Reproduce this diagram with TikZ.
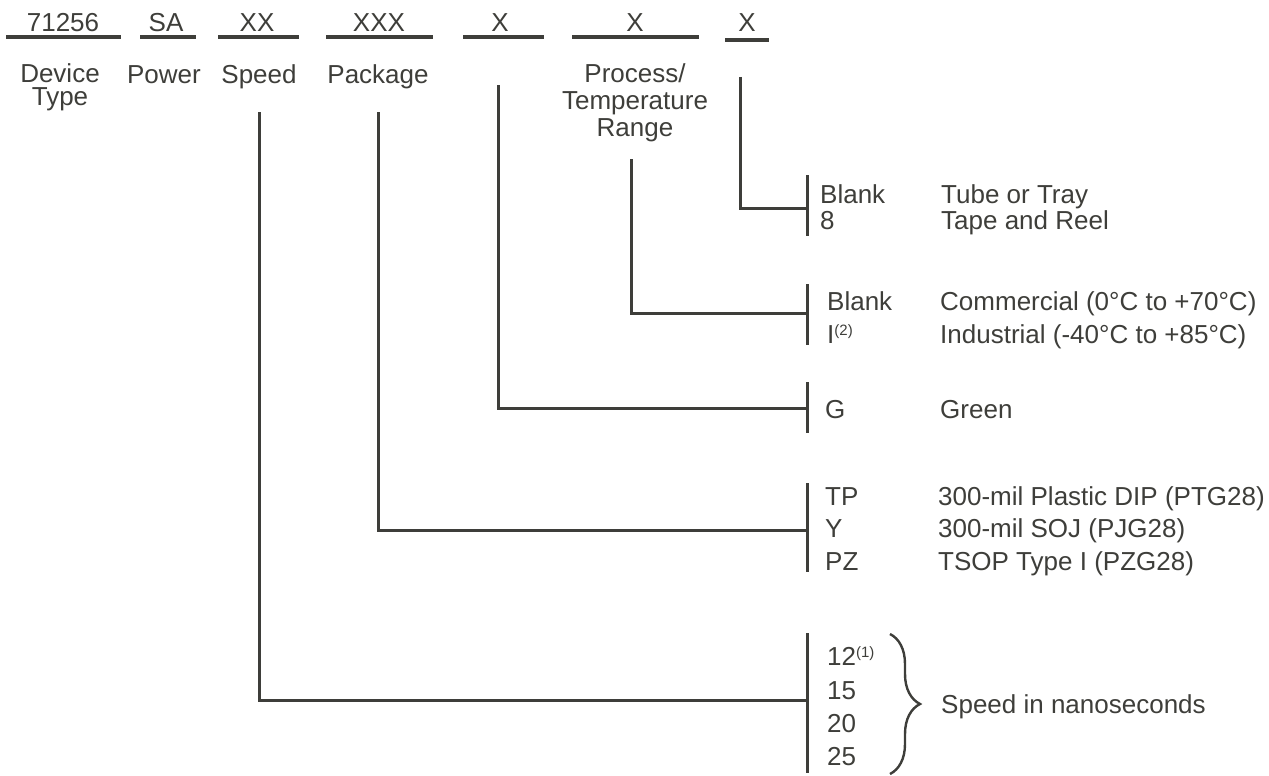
\documentclass[tikz,border=0pt]{standalone}
\usepackage{fontspec}
\setmainfont{Liberation Sans}
\usetikzlibrary{decorations.pathreplacing}
\definecolor{ink}{RGB}{62,62,58}
\newcommand{\noteref}[1]{\raisebox{8pt}{\fontsize{15}{15}\selectfont(#1)}}
\tikzset{
  code/.style={anchor=base,inner sep=0pt},
  field/.style={anchor=base,inner sep=0pt,align=center},
  opt/.style={anchor=base west,inner sep=0pt},
  wire/.style={line width=3pt},
  uline/.style={line width=3.4pt},
}

\begin{document}
\begin{tikzpicture}[x=1pt,y=-1pt,ink,text=ink,font=\fontsize{26}{26}\selectfont]
	\useasboundingbox (0,0) rectangle (1269,776);

	% part number fields
	\node[code] (devcode) at (63,32) {71256};
	\node[code] (pwrcode) at (166,32) {SA};
	\node[code] (spdcode) at (257,32) {XX};
	\node[code] (pkgcode) at (379,32) {XXX};
	\node[code] (grncode) at (500,32) {X};
	\node[code] (tmpcode) at (635,32) {X};
	\node[code] (pckcode) at (747,32) {X};
	\draw[uline] (6,37) -- (121,37);
	\draw[uline] (140,37) -- (196,37);
	\draw[uline] (218,37) -- (299,37);
	\draw[uline] (326,37) -- (433,37);
	\draw[uline] (463,37) -- (544,37);
	\draw[uline] (572,37) -- (699,37);
	\draw[uline] (725,40) -- (769,40);

	% base = last line
	\node[field,font=\fontsize{26}{24}\selectfont] (dev) at (60,106) {Device\\Type};
	\node[field] (pwr) at (164,83) {Power};
	\node[field] (spd) at (259,83) {Speed};
	\node[field] (pkg) at (378,83) {Package};
	\node[field,font=\fontsize{26}{27}\selectfont] (tmp) at (635,136) {Process/\\Temperature\\Range};

	% tops of the leads
	\coordinate (spdtop) at (259,112);
	\coordinate (pkgtop) at (378,112);
	\coordinate (grntop) at (498,85);
	\coordinate (tmptop) at (631,159);
	\coordinate (pcktop) at (740,77);

	% packing
	\coordinate (pckbar) at (807,208);
	\draw[wire] (807,175) -- (807,236);
	\draw[wire] (pcktop) |- (pckbar);
	\node[opt] (pck0) at (820,203) {Blank};
	\node[opt] (pck8) at (820,229) {8};
	\node[opt] (pck0t) at (941,203) {Tube or Tray};
	\node[opt] (pck8t) at (941,229) {Tape and Reel};

	% temperature
	\coordinate (tmpbar) at (807,313);
	\draw[wire] (807,284) -- (807,345);
	\draw[wire] (tmptop) |- (tmpbar);
	\node[opt] (tmp0) at (827,310) {Blank};
	\node[opt] (tmpi) at (827,343) {I\noteref{2}};
	\node[opt] (tmp0t) at (940,310) {Commercial (0°C to +70°C)};
	\node[opt] (tmpit) at (940,343) {Industrial (-40°C to +85°C)};

	% green
	\coordinate (grnbar) at (807,408);
	\draw[wire] (807,382) -- (807,433);
	\draw[wire] (grntop) |- (grnbar);
	\node[opt] (grng) at (825,418) {G};
	\node[opt] (grngt) at (940,418) {Green};

	% package
	\coordinate (pkgbar) at (807,530);
	\draw[wire] (807,483) -- (807,572);
	\draw[wire] (pkgtop) |- (pkgbar);
	\node[opt] (pkgtp) at (825,505) {TP};
	\node[opt] (pkgy) at (825,537) {Y};
	\node[opt] (pkgpz) at (825,570) {PZ};
	\node[opt] (pkgtpt) at (938,505) {300-mil Plastic DIP (PTG28)};
	\node[opt] (pkgyt) at (938,537) {300-mil SOJ (PJG28)};
	\node[opt] (pkgpzt) at (938,570) {TSOP Type I (PZG28)};

	% speed
	\coordinate (spdbar) at (807,700);
	\draw[wire] (807,633) -- (807,773);
	\draw[wire] (spdtop) |- (spdbar);
	\node[opt] (spd12) at (827,665) {12\noteref{1}};
	\node[opt] (spd15) at (827,699) {15};
	\node[opt] (spd20) at (827,732) {20};
	\node[opt] (spd25) at (827,765) {25};
	\draw[line width=2.4pt,decorate,decoration={brace,amplitude=30pt}] (890,634) -- (890,774);
	\node[opt] (spdt) at (941,713) {Speed in nanoseconds};
\end{tikzpicture}
\end{document}
